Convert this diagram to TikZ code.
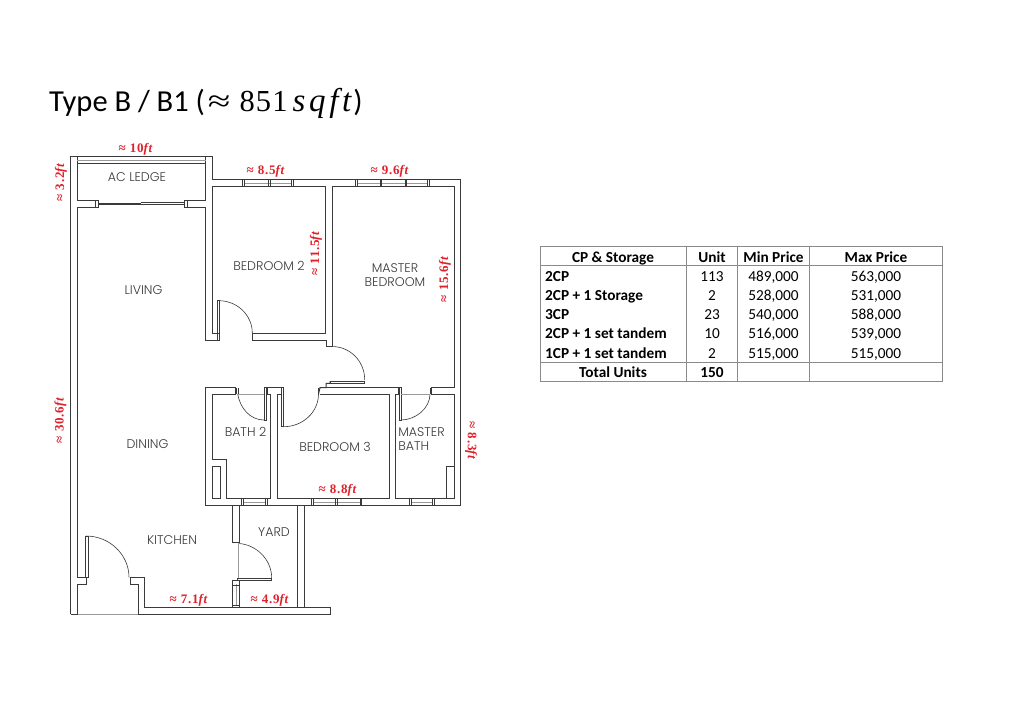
\documentclass[tikz,border=0pt]{standalone}
\usepackage{fontspec}
\setmainfont{Carlito}
\newfontfamily\roomfont{Poppins Light}
\newfontfamily\dimfont[LetterSpace=6]{Liberation Serif}
\newfontfamily\mathfont[LetterSpace=4]{Liberation Serif}
\newfontfamily\mathapprox[FakeStretch=1.35]{Liberation Serif}
\newfontfamily\mathwide[LetterSpace=11]{Liberation Serif}
\definecolor{wallc}{HTML}{3A3A3A}
\definecolor{thin}{HTML}{9A9A9A}
\definecolor{dimred}{HTML}{E0202A}
\definecolor{tabline}{HTML}{8A8A8A}
\tikzset{
  wall/.style={draw=wallc,line width=1pt,line join=miter},
  thinline/.style={draw=thin,line width=0.6pt},
  win/.style={draw=wallc,line width=0.6pt},
  leaf/.style={draw=wallc,line width=0.6pt},
  room/.style={text=wallc,font=\roomfont\fontsize{12.6}{14}\selectfont,inner sep=0pt,align=center},
  dimlabel/.style={text=dimred,font=\dimfont\bfseries\fontsize{13}{13}\selectfont,inner sep=0pt},
  tabhead/.style={font=\bfseries\fontsize{15.3}{17}\selectfont,inner sep=0pt,text=black,text height=13pt,text depth=3pt},
  tabcell/.style={font=\fontsize{15.3}{17}\selectfont,inner sep=0pt,text=black,text height=13pt,text depth=3pt},
  tabrow/.style={font=\bfseries\fontsize{15.3}{17}\selectfont,inner sep=0pt,anchor=west,text=black,text height=13pt,text depth=3pt},
  tabrule/.style={draw=tabline,line width=0.7pt},
}
\begin{document}
\begin{tikzpicture}[x=1pt,y=-1pt]
\useasboundingbox (0,0) rectangle (1024,724);
\fill[white] (0,0) rectangle (1024,724);

% title
\node[anchor=west,inner sep=0pt,font=\fontsize{30.5}{34}\selectfont,text=black] (title) at (49,103)
  {Type B / B1 (\hspace{3pt}{\mathapprox ≈}\hspace{9pt}{\mathfont 851}\hspace{5pt}{\mathwide\itshape\fontsize{33}{34}\selectfont sqft}\hspace{2pt})};

% outer shell
\draw[wall] (70.5,614.3) -- (70.5,156) -- (212.3,156) -- (212.3,179.7) -- (460.7,179.7) -- (460.7,505.3) -- (205.3,505.3) -- (205.3,387.7) -- (235,387.7) -- (235,394) -- (212,394) -- (212,459.3) -- (226,459.3) -- (226,498.3) -- (270.7,498.3) -- (270.7,394) -- (267.3,394) -- (267.3,387.7) -- (281.7,387.7) -- (281.7,394) -- (277.7,394) -- (277.7,498.3) -- (389,498.3) -- (389,394) -- (320,394);
\draw[wall] (318.5,394) -- (320,387.7) -- (326,387.7) -- (326,383.3) -- (330,383.3) -- (330,381);
\draw[wall] (326,387.7) -- (398,387.7) -- (398,394) -- (395,394) -- (395,498.3) -- (454.3,498.3) -- (454.3,394) -- (431.5,394) -- (431.5,387.7) -- (454,387.7) -- (454,186) -- (332,186) -- (332,346) -- (326,346) -- (326,340) -- (252.3,340) -- (252.3,333) -- (325.7,333) -- (325.7,186) -- (212.3,186) -- (212.3,333) -- (219,333);

% ac ledge and living
\draw[wall] (77,156) -- (77,200.3) -- (95.3,200.3);
\draw[wall] (187,200.3) -- (205.7,200.3) -- (205.7,156);
\draw[wall] (77,577.3) -- (77,207) -- (95.3,207);
\draw[wall] (187,207) -- (205.7,207) -- (205.7,340) -- (219.5,340);
\draw[thinline] (77,160.3) -- (205.7,160.3);
\draw[wall] (77,163.3) -- (205.7,163.3);
% sliding door to ac ledge
\draw[win] (95.3,200.3) rectangle (98,207);
\draw[win] (184.5,200.3) rectangle (187,207);
\draw[wall] (98,204.8) -- (141,204.8);
\draw[win] (98,203) -- (141,203);
\draw[wall] (141,202.5) -- (184.5,202.5);
\draw[win] (141,204.2) -- (184.5,204.2);

% top windows
\draw[win] (242.7,179.7) rectangle (293.3,186);
\draw[thinline] (244.5,183) -- (291.5,183);
\draw[win] (244.5,179.7) -- (244.5,186) (268.3,179.7) -- (268.3,186) (270,179.7) -- (270,186) (291.5,179.7) -- (291.5,186);
\draw[win] (355.7,179.7) rectangle (429.3,186);
\draw[thinline] (357.5,183) -- (427.5,183);
\draw[win] (357.5,179.7) -- (357.5,186) (380,179.7) -- (380,186) (381.5,179.7) -- (381.5,186) (405,179.7) -- (405,186) (406.5,179.7) -- (406.5,186) (427.5,179.7) -- (427.5,186);

% doors
\draw[leaf] (217.7,300.7) rectangle (219.5,340);
\draw[leaf] (219,300.7) .. controls (237,300.7) and (252.3,315) .. (252.3,333);
\draw[leaf] (332,346.5) .. controls (350,346.5) and (364.7,361) .. (364.7,380);
\draw[leaf] (330,381) rectangle (364.7,382.8);
\draw[leaf] (236,387.7) -- (236,394) (238,387.7) -- (238,394);
\draw[leaf] (237.7,394) .. controls (240,408) and (250,420) .. (264,420);
\draw[leaf] (264,387.7) rectangle (265.8,420);
\draw[thinline] (238,394) -- (264,394);
\draw[leaf] (281.7,387.7) rectangle (283.5,426.7);
\draw[leaf] (283.5,426.7) .. controls (303,426.7) and (318.5,412) .. (318.5,394);
\draw[leaf] (318.5,387.7) -- (318.5,394);
\draw[leaf] (399,387.7) rectangle (400.8,420);
\draw[leaf] (400.8,420) .. controls (416,420) and (430,408) .. (430,394);
\draw[leaf] (430,387.7) -- (430,394);
\draw[thinline] (401,394) -- (430,394);

% wet-area boxes
\draw[wall] (212,466) rectangle (220,498.7);
\draw[wall] (446,466) rectangle (454.3,498.3);

% bottom windows of the block
\draw[win] (241.7,498.3) rectangle (267.3,505.3);
\draw[thinline] (243.5,502) -- (265.5,502);
\draw[win] (243.5,498.3) -- (243.5,505.3) (265.5,498.3) -- (265.5,505.3);
\draw[win] (311.7,498.3) rectangle (361.7,505.3);
\draw[thinline] (313.5,502) -- (360,502);
\draw[win] (313.5,498.3) -- (313.5,505.3) (335.7,498.3) -- (335.7,505.3) (337,498.3) -- (337,505.3) (360,498.3) -- (360,505.3);
\draw[win] (409,498.3) rectangle (434,505.3);
\draw[thinline] (411,502) -- (432,502);
\draw[win] (411,498.3) -- (411,505.3) (432,498.3) -- (432,505.3);

% kitchen and yard
\draw[wall] (77,577.3) -- (86.7,577.3) -- (86.7,584) -- (77.7,584) -- (77.7,614.3);
\draw[wall] (70.5,614.3) -- (77.7,614.3);
\draw[thinline] (77.7,614.3) -- (138.3,614.3);
\draw[leaf] (85.7,536) rectangle (88,577.3);
\draw[leaf] (86,536) .. controls (110,536) and (129,555) .. (129,577.3);
\draw[wall] (130,584) -- (130,577.3) -- (144.3,577.3) -- (144.3,607.3) -- (330.7,607.3) -- (330.7,614.3) -- (138.3,614.3) -- (138.3,584) -- cycle;
\draw[wall] (297.7,505.3) -- (297.7,607.3);
\draw[wall] (304.3,505.3) -- (304.3,607.3);
\draw[wall] (232.7,505.3) -- (232.7,542.7) -- (239.3,542.7) -- (239.3,505.3);
\draw[leaf] (239.3,543.5) .. controls (257,545) and (271.7,560) .. (271.7,578);
\draw[leaf] (237.5,578) rectangle (271.7,580);
\draw[thinline] (238.5,542.7) -- (238.5,578);
\draw[win] (232.7,580) rectangle (239.3,607.3);
\draw[thinline] (236,584) -- (236,605);
\draw[win] (232.7,585) -- (239.3,585) (232.7,605) -- (239.3,605);

% room labels
\node[room] (acledge) at (137,177) {AC LEDGE};
\node[room] (living) at (143.5,290) {LIVING};
\node[room] (bed2) at (269,265.5) {BEDROOM 2};
\node[room] (master) at (395,275) {MASTER\\BEDROOM};
\node[room] (dining) at (147.5,444.5) {DINING};
\node[room] (bath2) at (245.5,432) {BATH 2};
\node[room] (bed3) at (335,446.5) {BEDROOM 3};
\node[room,align=left] (mbath) at (421.5,439.5) {MASTER\\BATH};
\node[room] (kitchen) at (172,540) {KITCHEN};
\node[room] (yard) at (274,532.5) {YARD};

% dimension labels
\node[dimlabel] (d10) at (136,149) {≈ 10\textit{ft}};
\node[dimlabel] (d85) at (266,171) {≈ 8.5\textit{ft}};
\node[dimlabel] (d96) at (390,171) {≈ 9.6\textit{ft}};
\node[dimlabel,rotate=90] (d32) at (61,182) {≈ 3.2\textit{ft}};
\node[dimlabel,rotate=90] (d306) at (60.5,420) {≈ 30.6\textit{ft}};
\node[dimlabel,rotate=90] (d115) at (316,253) {≈ 11.5\textit{ft}};
\node[dimlabel,rotate=90] (d156) at (445,279) {≈ 15.6\textit{ft}};
\node[dimlabel,rotate=-90] (d83) at (471,441) {≈ 8.3\textit{ft}};
\node[dimlabel] (d88) at (338,490.5) {≈ 8.8\textit{ft}};
\node[dimlabel] (d71) at (189,600) {≈ 7.1\textit{ft}};
\node[dimlabel] (d49) at (270,600) {≈ 4.9\textit{ft}};

% table
\draw[tabrule] (540,246.7) rectangle (942.7,381.7);
\draw[tabrule] (540,265.7) -- (942.7,265.7) (540,362.3) -- (942.7,362.3);
\draw[tabrule] (686.7,246.7) -- (686.7,381.7) (737.3,246.7) -- (737.3,381.7) (809.3,246.7) -- (809.3,381.7);
\node[tabhead] (h1) at (613,257) {CP \& Storage};
\node[tabhead] (h2) at (712,257) {Unit};
\node[tabhead] (h3) at (773.5,257) {Min Price};
\node[tabhead] (h4) at (876,257) {Max Price};
\node[tabrow] (r1) at (545,276) {2CP};
\node[tabrow] (r2) at (545,295.3) {2CP + 1 Storage};
\node[tabrow] (r3) at (545,314.6) {3CP};
\node[tabrow] (r4) at (545,333.9) {2CP + 1 set tandem};
\node[tabrow] (r5) at (545,353.2) {1CP + 1 set tandem};
\node[tabhead] (r6) at (613,372.5) {Total Units};
\node[tabcell] (u1) at (712,276) {113};
\node[tabcell] (u2) at (712,295.3) {2};
\node[tabcell] (u3) at (712,314.6) {23};
\node[tabcell] (u4) at (712,333.9) {10};
\node[tabcell] (u5) at (712,353.2) {2};
\node[tabhead] (u6) at (712,372.5) {150};
\node[tabcell] (a1) at (773.5,276) {489,000};
\node[tabcell] (a2) at (773.5,295.3) {528,000};
\node[tabcell] (a3) at (773.5,314.6) {540,000};
\node[tabcell] (a4) at (773.5,333.9) {516,000};
\node[tabcell] (a5) at (773.5,353.2) {515,000};
\node[tabcell] (b1) at (876,276) {563,000};
\node[tabcell] (b2) at (876,295.3) {531,000};
\node[tabcell] (b3) at (876,314.6) {588,000};
\node[tabcell] (b4) at (876,333.9) {539,000};
\node[tabcell] (b5) at (876,353.2) {515,000};
\end{tikzpicture}
\end{document}
